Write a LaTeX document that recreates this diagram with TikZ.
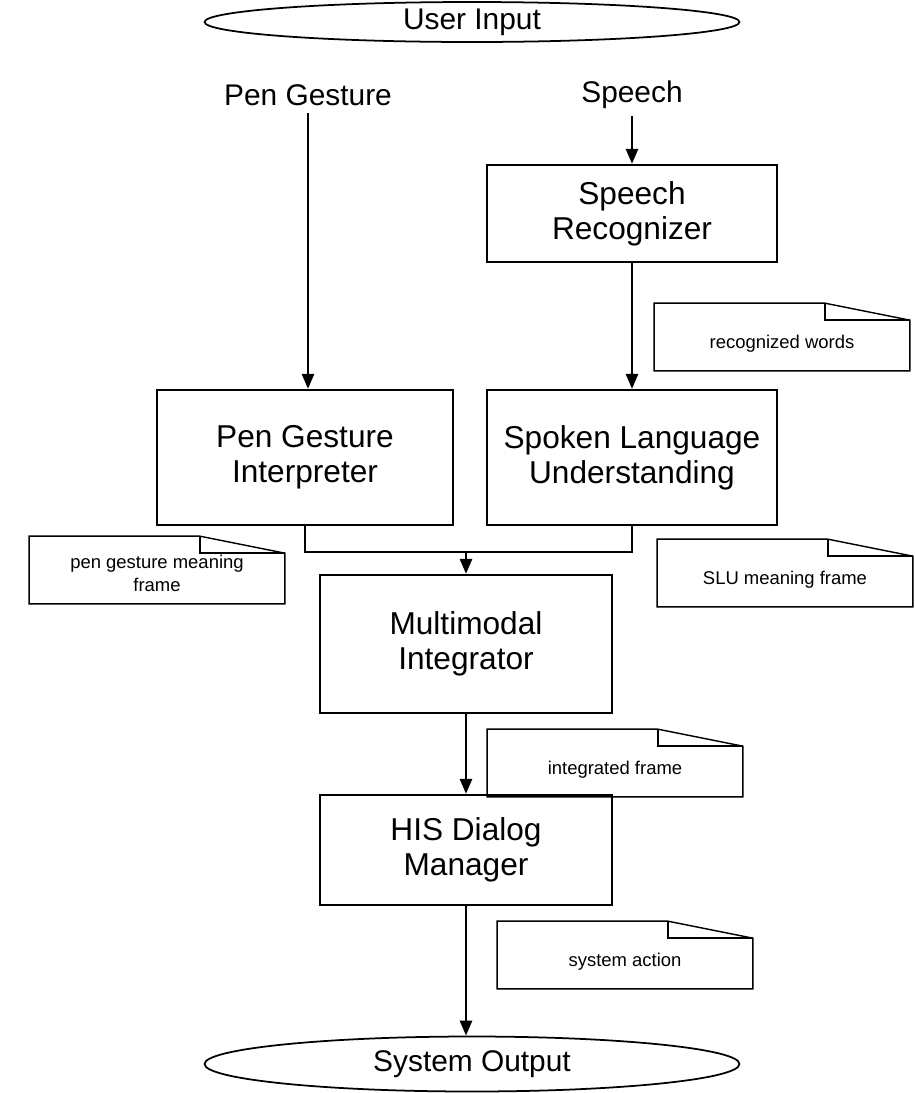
\documentclass[tikz,border=0pt]{standalone}
\usepackage{fontspec}
\setmainfont{Liberation Sans}
\usetikzlibrary{shapes.geometric,arrows.meta}
\newcommand{\foldnote}[1]{%
  \draw[line width=0.8pt] (#1.south west) -- (#1.north west) -- ([xshift=-1.7cm]#1.north east)
    -- ([yshift=-0.34cm]#1.north east) -- (#1.south east) -- cycle;
  \draw[line width=0.8pt] ([xshift=-1.7cm]#1.north east) -- ([xshift=-1.7cm,yshift=-0.34cm]#1.north east)
    -- ([yshift=-0.34cm]#1.north east);
}
\begin{document}
\begin{tikzpicture}[x=0.02cm,y=-0.02cm,
  module/.style={draw,line width=1.3pt,align=center,inner sep=0pt,font=\fontsize{18}{20}\selectfont},
  terminal/.style={draw,ellipse,line width=1pt,inner sep=0pt,font=\fontsize{17}{20}\selectfont},
  modality/.style={inner sep=4pt,font=\fontsize{17}{20}\selectfont},
  note/.style={minimum width=5.1cm,minimum height=1.34cm,text height=0.55cm,align=center,inner sep=0pt,font=\fontsize{10.5}{13}\selectfont},
  flow/.style={draw,line width=1.5pt,-{Triangle[length=3mm,width=2.4mm]}}]
\useasboundingbox (0,0) rectangle (914,1093);

\node[terminal,minimum width=10.7cm,minimum height=0.8cm] (in) at (472,22) {User Input};
\node[modality] (pg) at (308,95) {Pen Gesture};
\node[modality] (sp) at (632,95) {Speech};
\node[module,minimum width=5.8cm,minimum height=1.94cm] (sr) at (632,213.5) {Speech\\Recognizer};
\node[module,minimum width=5.92cm,minimum height=2.7cm] (pgi) at (305,457.5) {Pen Gesture\\Interpreter};
\node[module,minimum width=5.8cm,minimum height=2.7cm] (slu) at (632,457.5) {Spoken Language\\Understanding};
\node[module,minimum width=5.84cm,minimum height=2.76cm] (mi) at (466,644) {Multimodal\\Integrator};
\node[module,minimum width=5.84cm,minimum height=2.2cm] (hdm) at (466,850) {HIS Dialog\\Manager};
\node[terminal,minimum width=10.7cm,minimum height=1.1cm] (out) at (472,1064) {System Output};
\coordinate (join) at (466,552);

% notes
\node[note] (rw) at (782,337) {recognized words};
\node[note,text height=0.85cm] (pgm) at (157,570) {pen gesture meaning\\frame};
\node[note] (slum) at (785,573) {SLU meaning frame};
\node[note] (itf) at (615,763) {integrated frame};
\node[note] (sa) at (625,955) {system action};
\foldnote{rw}
\foldnote{pgm}
\foldnote{slum}
\foldnote{itf}
\foldnote{sa}

\path[flow] (pg.south) -- (pg.south |- pgi.north);
\path[flow] (sp) -- (sr);
\path[flow] (sr) -- (slu);
\path[draw,line width=1.3pt] (pgi.south) |- (join) -| (slu.south);
\path[flow] (join) -- (mi);
\path[flow] (mi) -- (hdm);
\path[flow] (hdm.south) -- (hdm.south |- out.north);

\end{tikzpicture}
\end{document}
